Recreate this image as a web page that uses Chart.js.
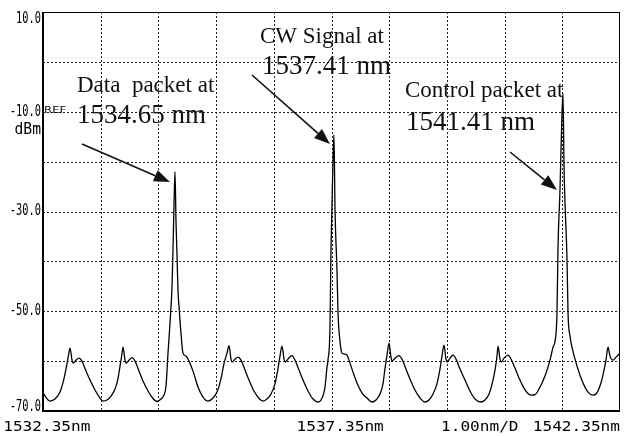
<!DOCTYPE html>
<html>
<head>
<meta charset="utf-8">
<script src="https://cdn.jsdelivr.net/npm/chart.js@4/dist/chart.umd.min.js"></script>
<style>
  html, body { margin: 0; padding: 0; background: #fff; }
  #wrap { width: 638px; height: 436px; }
</style>
</head>
<body>
<div id="wrap"><canvas id="c" width="638" height="436"></canvas></div>
<script>
// ---- Data ----
const wavelengthNm = [
  1532.350,1532.471,1532.558,1532.645,1532.714,1532.766,1532.801,1532.818,1532.853,1532.870,1532.922,1532.974,1533.026,1533.095,1533.165,1533.251,1533.338,1533.390,
  1533.459,1533.529,1533.598,1533.650,1533.685,1533.719,1533.737,1533.771,1533.789,1533.841,1533.893,1533.945,1534.014,1534.083,1534.170,1534.256,1534.326,
  1534.395,1534.447,1534.482,1534.516,1534.551,1534.586,1534.603,1534.620,1534.638,1534.655,1534.672,1534.690,1534.707,1534.742,1534.776,1534.828,1534.880,1534.950,1535.036,1535.123,1535.210,
  1535.279,1535.366,1535.435,1535.487,1535.539,1535.574,1535.608,1535.626,1535.678,1535.730,1535.782,1535.851,1535.920,1536.007,1536.094,1536.163,
  1536.232,1536.302,1536.371,1536.423,1536.457,1536.492,1536.527,1536.544,1536.596,1536.665,1536.717,1536.787,1536.856,1536.943,1537.029,1537.116,
  1537.168,1537.237,1537.272,1537.289,1537.324,1537.341,1537.376,1537.393,1537.411,1537.445,1537.463,1537.497,1537.532,1537.584,1537.619,1537.671,1537.723,1537.792,1537.879,1537.965,1538.052,
  1538.121,1538.191,1538.243,1538.277,1538.312,1538.347,1538.381,1538.399,1538.451,1538.520,1538.572,1538.641,1538.711,1538.797,1538.884,1538.970,
  1539.040,1539.109,1539.178,1539.230,1539.265,1539.300,1539.334,1539.352,1539.404,1539.456,1539.508,1539.577,1539.664,1539.750,1539.837,1539.941,
  1540.010,1540.080,1540.132,1540.184,1540.218,1540.236,1540.270,1540.288,1540.340,1540.409,1540.461,1540.530,1540.600,1540.686,1540.756,1540.808,
  1540.877,1540.964,1541.050,1541.102,1541.154,1541.189,1541.224,1541.258,1541.276,1541.310,1541.345,1541.362,1541.380,1541.397,1541.432,1541.449,1541.484,1541.518,1541.605,1541.709,1541.795,1541.882,
  1541.934,1542.003,1542.055,1542.107,1542.142,1542.177,1542.229,1542.281,1542.350
];
const powerDbm = [
  -66.4,-68.0,-67.6,-66.2,-63.5,-60.5,-58.2,-57.4,-59.8,-60.4,-59.8,-59.4,-60.0,-62.0,-63.8,-65.8,-67.4,-68.0,
  -67.8,-67.0,-65.6,-63.5,-61.0,-58.5,-57.2,-59.8,-60.4,-59.8,-59.3,-60.0,-62.0,-64.0,-66.0,-67.5,-68.1,
  -67.6,-66.8,-65.0,-58.5,-52.4,-45.0,-37.5,-29.0,-22.0,-32.0,-38.5,-46.0,-49.0,-54.5,-58.4,-59.0,-60.0,-62.0,-65.2,-67.2,-68.0,
  -67.6,-66.2,-63.5,-60.5,-58.4,-56.9,-59.6,-60.2,-59.6,-59.2,-59.8,-61.8,-63.8,-66.0,-67.5,-68.0,
  -67.6,-66.6,-64.5,-61.5,-59.0,-57.0,-59.6,-60.2,-59.6,-58.9,-59.8,-61.8,-63.8,-66.0,-67.6,-68.2,
  -67.8,-65.2,-61.2,-59.8,-53.1,-37.7,-19.7,-14.6,-29.7,-41.7,-50.3,-56.0,-58.4,-58.6,-58.8,-60.4,-62.2,-64.4,-66.4,-67.4,-68.2,
  -67.8,-66.6,-64.5,-61.5,-58.8,-56.4,-59.2,-60.0,-59.4,-58.9,-59.6,-61.6,-63.6,-65.8,-67.4,-68.2,
  -67.8,-66.6,-64.5,-61.6,-59.0,-56.8,-59.6,-60.2,-59.4,-58.8,-59.6,-61.6,-63.8,-66.0,-67.6,-68.2,
  -67.8,-66.6,-64.6,-61.8,-59.0,-57.0,-59.6,-60.2,-59.4,-58.8,-59.6,-61.4,-63.4,-65.4,-66.5,-66.8,
  -66.7,-65.2,-63.0,-61.2,-59.0,-57.2,-56.0,-50.3,-37.0,-25.7,-10.2,-6.3,-21.0,-28.3,-39.7,-50.3,-55.0,-57.2,-61.0,-64.4,-66.2,-66.8,
  -66.6,-65.0,-62.8,-59.8,-57.2,-59.0,-59.8,-59.2,-58.4
];

// axis
const xMinNm = 1532.35, xMaxNm = 1542.35;
const xGridNm = [1533.35,1534.35,1535.35,1536.35,1537.35,1538.35,1539.35,1540.35,1541.35];
const yMinDbm = -70, yMaxDbm = 10;
const yGridDbm = [0, -10, -20, -30, -40, -50, -60];
const yTickValues = [10, -10, -30, -50, -70];
const yTickLabels = ['10.0', '-10.0', '-30.0', '-50.0', '-70.0'];
const xAxisLabels = ['1532.35nm', '1537.35nm', '1.00nm/D', '1542.35nm'];
const xAxisLabelAt = [1531.66, 1537.50, 1539.92, 1542.35];
const xAxisLabelAlign = ['left', 'center', 'center', 'right'];

// annotations
const noteTexts = ['Data  packet at', '1534.65 nm', 'CW Signal at', '1537.41 nm', 'Control packet at', '1541.41 nm'];
const noteNm    = [1532.939, 1532.939, 1536.111, 1536.146, 1538.624, 1538.641];
const noteDbm   = [-6.04, -12.26, 3.78, -2.43, -7.04, -13.66];
const noteBig   = [false, true, false, true, false, true];
const arrowFromNm  = [1533.026, 1535.972, 1540.444];
const arrowFromDbm = [-16.47, -2.63, -18.07];
const arrowToNm    = [1534.551, 1537.324, 1541.258];
const arrowToDbm   = [-24.09, -16.47, -25.69];

const points = wavelengthNm.map((w, i) => ({ x: w, y: powerDbm[i] }));

function drawArrow(ctx, x1, y1, x2, y2) {
  const ang = Math.atan2(y2 - y1, x2 - x1);
  const L = 16, W = 6;
  const bx = x2 - L * Math.cos(ang), by = y2 - L * Math.sin(ang);
  ctx.lineWidth = 1.6;
  ctx.beginPath(); ctx.moveTo(x1, y1); ctx.lineTo(bx, by); ctx.stroke();
  ctx.beginPath();
  ctx.moveTo(x2, y2);
  ctx.lineTo(bx - W * Math.sin(ang), by + W * Math.cos(ang));
  ctx.lineTo(bx + W * Math.sin(ang), by - W * Math.cos(ang));
  ctx.closePath(); ctx.fill();
}

function condensedText(ctx, text, px, py, font, sx, align) {
  ctx.save();
  ctx.translate(px, py);
  ctx.scale(sx, 1);
  ctx.font = font;
  ctx.textAlign = align;
  ctx.textBaseline = 'middle';
  ctx.fillText(text, 0, 0);
  ctx.restore();
}

const osaPlugin = {
  id: 'osa',
  beforeDatasetsDraw(chart) {
    const { ctx, chartArea: a, scales: { x, y } } = chart;
    ctx.save();
    ctx.strokeStyle = '#222';
    ctx.lineWidth = 1;
    ctx.setLineDash([2, 2]);
    xGridNm.forEach(v => {
      const px = Math.round(x.getPixelForValue(v)) + 0.5;
      ctx.beginPath(); ctx.moveTo(px, a.top); ctx.lineTo(px, a.bottom); ctx.stroke();
    });
    yGridDbm.forEach(v => {
      const py = Math.round(y.getPixelForValue(v)) + 0.5;
      ctx.beginPath(); ctx.moveTo(a.left, py); ctx.lineTo(a.right, py); ctx.stroke();
    });
    ctx.restore();
  },
  afterDatasetsDraw(chart) {
    const { ctx, chartArea: a, scales: { x, y } } = chart;
    ctx.save();
    // frame
    ctx.strokeStyle = '#000';
    ctx.lineWidth = 1;
    ctx.strokeRect(a.left + 0.5, a.top + 0.5, a.right - a.left - 1, a.bottom - a.top - 1);
    ctx.lineWidth = 2;
    ctx.beginPath();
    ctx.moveTo(a.left, a.top); ctx.lineTo(a.left, a.bottom); ctx.lineTo(a.right, a.bottom);
    ctx.stroke();

    ctx.fillStyle = '#000';
    const monoY = '15px "DejaVu Sans Mono"';
    yTickValues.forEach((v, i) => {
      let py = y.getPixelForValue(v);
      py = Math.min(Math.max(py, a.top + 7), a.bottom - 4);
      condensedText(ctx, yTickLabels[i], a.left - 2, py, monoY, 0.69, 'right');
      if (v === -10) {
        condensedText(ctx, 'REF', a.left + 1, py - 1, '9px "DejaVu Sans"', 1.3, 'left');
        condensedText(ctx, 'dBm', a.left - 2, py + 18, monoY, 0.98, 'right');
      }
    });
    xAxisLabels.forEach((t, i) => {
      condensedText(ctx, t, x.getPixelForValue(xAxisLabelAt[i]), a.bottom + 16,
        '14px "DejaVu Sans Mono"', 1.15, xAxisLabelAlign[i]);
    });
    // annotations
    ctx.fillStyle = '#111';
    ctx.strokeStyle = '#111';
    ctx.textAlign = 'left';
    ctx.textBaseline = 'alphabetic';
    noteTexts.forEach((t, i) => {
      ctx.font = (noteBig[i] ? '27px' : '23px') + ' "Liberation Serif"';
      ctx.fillText(t, x.getPixelForValue(noteNm[i]), y.getPixelForValue(noteDbm[i]));
    });
    arrowFromNm.forEach((v, i) => {
      drawArrow(ctx,
        x.getPixelForValue(v), y.getPixelForValue(arrowFromDbm[i]),
        x.getPixelForValue(arrowToNm[i]), y.getPixelForValue(arrowToDbm[i]));
    });
    ctx.restore();
  }
};

new Chart(document.getElementById('c'), {
  type: 'line',
  data: {
    datasets: [{
      label: 'Spectrum (dBm)',
      data: points,
      borderColor: '#000',
      borderWidth: 1.3,
      pointRadius: 0,
      cubicInterpolationMode: 'monotone',
      fill: false
    }]
  },
  options: {
    responsive: false,
    animation: false,
    devicePixelRatio: 1,
    layout: { padding: { left: 43, right: 18, top: 12, bottom: 25 } },
    plugins: { legend: { display: false }, tooltip: { enabled: false } },
    scales: {
      x: {
        type: 'linear',
        min: xMinNm, max: xMaxNm,
        ticks: { display: false },
        grid: { display: false, drawTicks: false },
        border: { display: false }
      },
      y: {
        min: yMinDbm, max: yMaxDbm,
        ticks: { display: false, stepSize: 10 },
        grid: { display: false, drawTicks: false },
        border: { display: false }
      }
    }
  },
  plugins: [osaPlugin]
});
</script>
</body>
</html>
